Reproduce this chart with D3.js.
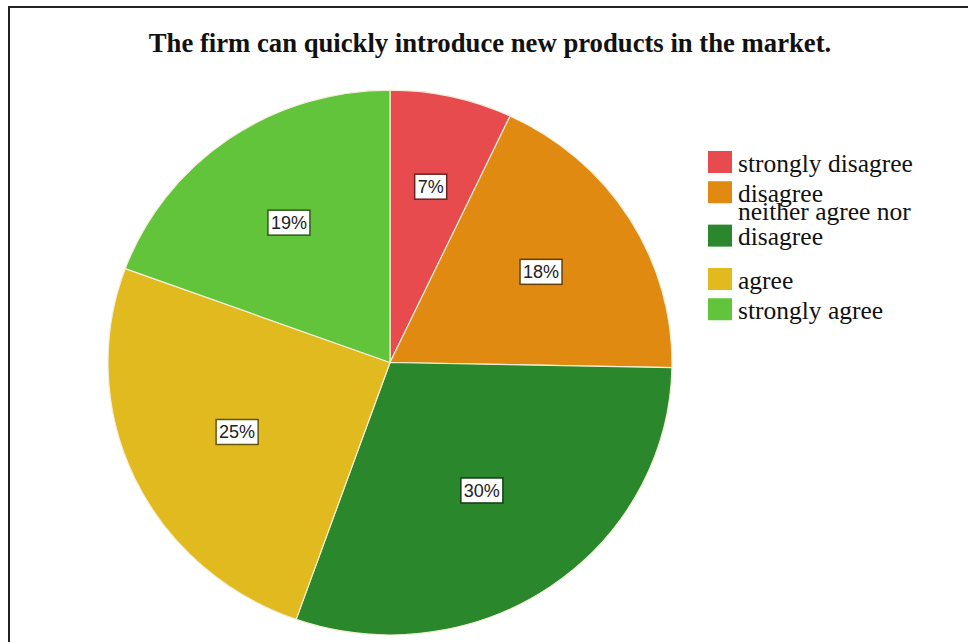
<!DOCTYPE html>
<html>
<head>
<meta charset="utf-8">
<script src="https://cdn.jsdelivr.net/npm/d3@7/dist/d3.min.js"></script>
<style>
  html, body { margin: 0; padding: 0; background: #ffffff; }
  svg { display: block; }
</style>
</head>
<body>
<svg id="chart" width="968" height="642"></svg>
<script>
// Survey responses (percent of respondents)
const categories = ["strongly disagree", "disagree", "neither agree nor disagree", "agree", "strongly agree"];
const legendLines = [["strongly disagree"], ["disagree"], ["neither agree nor", "disagree"], ["agree"], ["strongly agree"]];
const values = [7.0, 18.3, 30.1, 25.2, 19.4];
const colors = ["#e84b4d", "#e08a12", "#2a872b", "#e0ba1f", "#62c43a"];
const title = "The firm can quickly introduce new products in the market.";

const W = 968, H = 642;
const svg = d3.select("#chart");

// frame
svg.append("path")
  .attr("d", `M9,${H + 2}V7H${W + 2}`)
  .attr("fill", "none")
  .attr("stroke", "#222")
  .attr("stroke-width", 2);

svg.append("text")
  .attr("x", 490).attr("y", 52)
  .attr("text-anchor", "middle")
  .attr("font-family", "'Liberation Serif', 'Times New Roman', serif")
  .attr("font-weight", "bold")
  .attr("font-size", 26.7)
  .attr("fill", "#111")
  .text(title);

// pie
const cx = 390, cy = 362.5, R = 282, yScale = 0.966;
const pie = d3.pie().sort(null).value(d => d)(values);
const arc = d3.arc().innerRadius(0).outerRadius(R);

const g = svg.append("g").attr("transform", `translate(${cx},${cy})`);
g.append("g").attr("transform", `scale(1,${yScale})`)
  .selectAll("path")
  .data(pie)
  .join("path")
  .attr("d", arc)
  .attr("fill", (d, i) => colors[i])
  .attr("stroke", "#f3efd6")
  .attr("stroke-width", 1.2);

// labels at the area centroid of each slice
const fmt = v => Math.round(v) + "%";
const labels = g.selectAll("g.lbl")
  .data(pie)
  .join("g")
  .attr("class", "lbl")
  .attr("transform", d => {
    const theta = d.endAngle - d.startAngle;
    const mid = (d.startAngle + d.endAngle) / 2;
    const dist = 4 * R * Math.sin(theta / 2) / (3 * theta);
    return `translate(${dist * Math.sin(mid)},${-dist * Math.cos(mid) * yScale})`;
  });

labels.each(function(d, i) {
  const sel = d3.select(this);
  const t = sel.append("text")
    .attr("text-anchor", "middle")
    .attr("dy", "0.36em")
    .attr("font-family", "'Liberation Sans', Arial, sans-serif")
    .attr("font-size", 18)
    .attr("fill", "#222")
    .text(fmt(d.data));
  const w = t.node().getComputedTextLength();
  sel.insert("rect", "text")
    .attr("x", -w / 2 - 3).attr("y", -12.5)
    .attr("width", w + 6).attr("height", 25)
    .attr("fill", "#ffffff")
    .attr("stroke", d3.color(colors[i]).darker(2.2))
    .attr("stroke-width", 1.5);
});

// legend
const lx = 708, sw = 24, sh = 22, lineGap = 25;
let center = 162;
const legend = svg.append("g");
categories.forEach((c, i) => {
  const lines = legendLines[i];
  const n = lines.length;
  const h = 30.25 + 26.25 * (n - 1);
  if (i > 0) {
    const prevH = 30.25 + 26.25 * (legendLines[i - 1].length - 1);
    center += (prevH + h) / 2;
  }
  legend.append("rect")
    .attr("x", lx).attr("y", center - sh / 2)
    .attr("width", sw).attr("height", sh)
    .attr("fill", colors[i]);
  const last = center + 9.5;
  const txt = legend.append("text")
    .attr("font-family", "'Liberation Serif', 'Times New Roman', serif")
    .attr("font-size", 25.5)
    .attr("fill", "#111");
  lines.forEach((ln, j) => {
    txt.append("tspan")
      .attr("x", lx + 30)
      .attr("y", last - lineGap * (n - 1 - j))
      .text(ln);
  });
});
</script>
</body>
</html>
